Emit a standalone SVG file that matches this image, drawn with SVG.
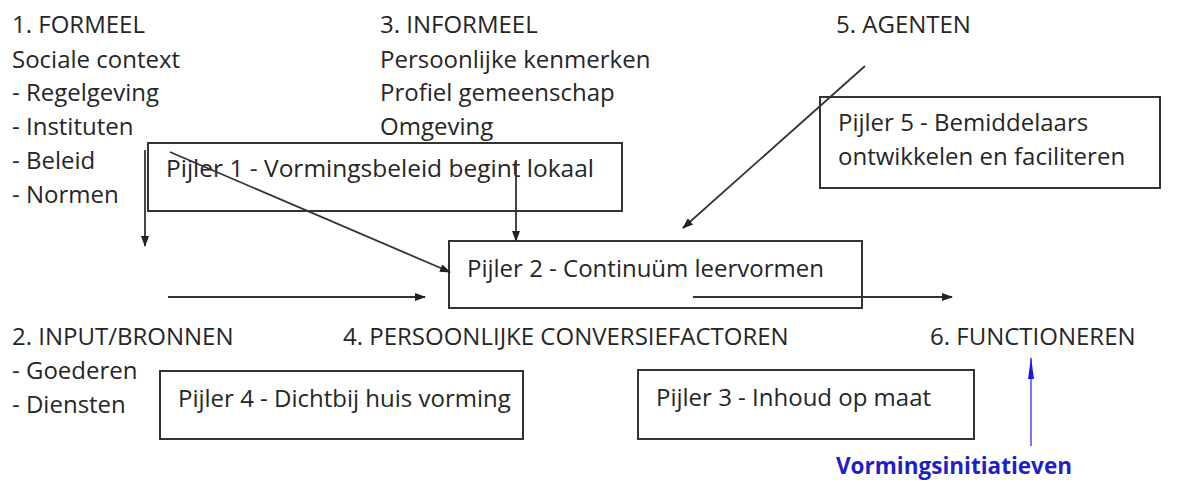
<svg xmlns="http://www.w3.org/2000/svg" width="1199" height="480" viewBox="0 0 1199 480">
<style>
text{font-family:"Open Sans","Noto Sans","DejaVu Sans",sans-serif;font-size:24px;fill:#262626}
.box rect{fill:none;stroke:#333;stroke-width:2}
.conn line{stroke:#333;stroke-width:1.8;fill:none}
.blue{font-weight:bold;fill:#1f1fc8;font-size:22.5px}
</style>
<defs>
<marker id="ah" markerWidth="11" markerHeight="8" refX="10" refY="4" orient="auto" markerUnits="userSpaceOnUse">
<path d="M0,0 L11,4 L0,8 Z" fill="#222"/>
</marker>
<marker id="ahb" markerWidth="22" markerHeight="8" refX="21" refY="4" orient="auto" markerUnits="userSpaceOnUse">
<path d="M0,1 L22,4 L0,7 Z" fill="#1a1ae6"/>
</marker>
</defs>
<rect width="1199" height="480" fill="#fff"/>
<g id="labels-top">
<text x="12" y="33">1. FORMEEL</text>
<text x="12" y="68">Sociale context</text>
<text x="12" y="101">- Regelgeving</text>
<text x="12" y="135">- Instituten</text>
<text x="12" y="169">- Beleid</text>
<text x="12" y="203">- Normen</text>
<text x="380" y="33">3. INFORMEEL</text>
<text x="380" y="68">Persoonlijke kenmerken</text>
<text x="380" y="101">Profiel gemeenschap</text>
<text x="380" y="135">Omgeving</text>
<text x="836" y="33">5. AGENTEN</text>
</g>
<g id="labels-bottom">
<text x="12" y="345">2. INPUT/BRONNEN</text>
<text x="12" y="379">- Goederen</text>
<text x="12" y="413">- Diensten</text>
<text x="343" y="345">4. PERSOONLIJKE CONVERSIEFACTOREN</text>
<text x="930" y="345">6. FUNCTIONEREN</text>
</g>
<g id="pijler1" class="box">
<rect x="148" y="143" width="474" height="68"/>
<text x="166" y="177" textLength="428" lengthAdjust="spacingAndGlyphs">Pijler 1 - Vormingsbeleid begint lokaal</text>
</g>
<g id="pijler5" class="box">
<rect x="820" y="97" width="340" height="91"/>
<text x="838" y="131">Pijler 5 - Bemiddelaars</text>
<text x="838" y="165">ontwikkelen en faciliteren</text>
</g>
<g id="pijler2" class="box">
<rect x="449" y="241" width="413" height="67"/>
<text x="467" y="277">Pijler 2 - Continuüm leervormen</text>
</g>
<g id="pijler4" class="box">
<rect x="160" y="371" width="363" height="68"/>
<text x="178" y="407">Pijler 4 - Dichtbij huis vorming</text>
</g>
<g id="pijler3" class="box">
<rect x="638" y="370" width="336" height="69"/>
<text x="656" y="406">Pijler 3 - Inhoud op maat</text>
</g>
<g id="connectors" class="conn">
<line x1="145" y1="150" x2="145" y2="246" marker-end="url(#ah)"/>
<line x1="170" y1="152" x2="450" y2="272" marker-end="url(#ah)"/>
<line x1="516" y1="160" x2="516" y2="241" marker-end="url(#ah)"/>
<line x1="865" y1="66" x2="683" y2="228" marker-end="url(#ah)"/>
<line x1="168" y1="297" x2="425" y2="297" marker-end="url(#ah)"/>
<line x1="693" y1="297" x2="952" y2="297" marker-end="url(#ah)"/>
<line x1="1031" y1="446" x2="1031" y2="358" style="stroke:#6a6af0" marker-end="url(#ahb)"/>
</g>
<g id="vormingsinitiatieven">
<text class="blue" x="836" y="474">Vormingsinitiatieven</text>
</g>
</svg>
